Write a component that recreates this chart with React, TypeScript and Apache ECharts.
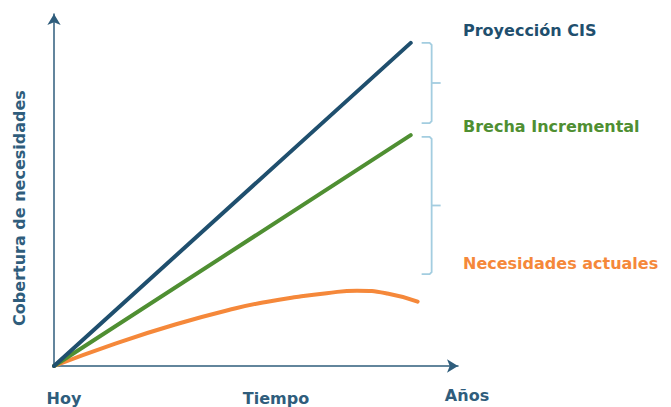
import React, { useEffect, useRef } from "react";
import * as echarts from "echarts";

const projectionCIS: [number, number][] = [[0, 0], [88.3, 91.8]];
const brechaIncremental: [number, number][] = [[0, 0], [88.3, 65.6]];
const necesidadesActuales: [number, number][] = [
  [0, 0], [15, 6.3], [30, 11.8], [45, 16.4], [52.5, 18.2], [60, 19.6], [67.5, 20.7], [75, 21.4], [82.5, 20.6], [90, 18.3],
];
// braces: [x, yTop, yBottom]
const braces: [number, number, number][] = [
  [91, 91.8, 69],
  [91, 65.1, 26.1],
];
const seriesLabels = ["Proyección CIS", "Brecha Incremental", "Necesidades actuales"];
const xLabels = ["Hoy", "Tiempo", "Años"];
const yTitle = "Cobertura de necesidades";

const NAVY = "#1f4f6e";
const GREEN = "#4f8f32";
const ORANGE = "#f5883a";
const BRACE = "#a3cde0";
const AXIS = "#2f5d7c";
const FONT = "'DejaVu Sans', sans-serif";

export default function App() {
  const ref = useRef<HTMLDivElement>(null);
  useEffect(() => {
    const chart = echarts.init(ref.current!, null, { renderer: "svg" });
    chart.setOption({
      animation: false,
      backgroundColor: "#ffffff",
      grid: { left: 54, right: 213, top: 14, bottom: 41 },
      xAxis: {
        type: "value", min: 0, max: 100,
        axisLine: { show: true, symbol: ["none", "arrow"], symbolSize: [10, 11], lineStyle: { color: AXIS, width: 1.5 } },
        axisTick: { show: false }, axisLabel: { show: false }, splitLine: { show: false },
      },
      yAxis: {
        type: "value", min: 0, max: 100,
        axisLine: { show: true, symbol: ["none", "arrow"], symbolSize: [10, 11], lineStyle: { color: AXIS, width: 1.5 } },
        axisTick: { show: false }, axisLabel: { show: false }, splitLine: { show: false },
      },
      series: [
        { type: "line", data: necesidadesActuales, smooth: 0.5, showSymbol: false, lineStyle: { color: ORANGE, width: 4, cap: "round" }, z: 3 },
        { type: "line", data: brechaIncremental, showSymbol: false, lineStyle: { color: GREEN, width: 4, cap: "round" }, z: 4 },
        { type: "line", data: projectionCIS, showSymbol: false, lineStyle: { color: NAVY, width: 4, cap: "round" }, z: 5 },
        {
          type: "custom",
          data: braces,
          renderItem: (params: any, api: any) => {
            const top = api.coord([api.value(0), api.value(1)]);
            const bot = api.coord([api.value(0), api.value(2)]);
            const x0 = top[0];
            const xv = x0 + 10;
            const xt = x0 + 19;
            const ym = (top[1] + bot[1]) / 2;
            const style = { stroke: BRACE, lineWidth: 1.8, fill: null };
            return {
              type: "group",
              children: [
                { type: "polyline", shape: { points: [[x0, top[1]], [xv - 2, top[1]], [xv, top[1] + 2], [xv, bot[1] - 2], [xv - 2, bot[1]], [x0, bot[1]]] }, style },
                { type: "line", shape: { x1: xv, y1: ym, x2: xt, y2: ym }, style },
              ],
            };
          },
          z: 2,
        },
      ],
      graphic: [
        { type: "text", x: 463, y: 30, style: { text: seriesLabels[0], fill: NAVY, font: `bold 16px ${FONT}`, verticalAlign: "middle" } },
        { type: "text", x: 463, y: 126, style: { text: seriesLabels[1], fill: GREEN, font: `bold 16px ${FONT}`, verticalAlign: "middle" } },
        { type: "text", x: 463, y: 263, style: { text: seriesLabels[2], fill: ORANGE, font: `bold 16px ${FONT}`, verticalAlign: "middle" } },
        { type: "text", x: 64, y: 398, style: { text: xLabels[0], fill: AXIS, font: `bold 16px ${FONT}`, align: "center", verticalAlign: "middle" } },
        { type: "text", x: 276, y: 398, style: { text: xLabels[1], fill: AXIS, font: `bold 16px ${FONT}`, align: "center", verticalAlign: "middle" } },
        { type: "text", x: 467, y: 395, style: { text: xLabels[2], fill: AXIS, font: `bold 16px ${FONT}`, align: "center", verticalAlign: "middle" } },
        { type: "text", x: 19, y: 208, rotation: Math.PI / 2, style: { text: yTitle, fill: AXIS, font: `bold 16px ${FONT}`, align: "center", verticalAlign: "middle" } },
      ],
    });
    return () => chart.dispose();
  }, []);
  return <div ref={ref} style={{ position: "fixed", left: 0, top: 0, width: 671, height: 407 }} />;
}
